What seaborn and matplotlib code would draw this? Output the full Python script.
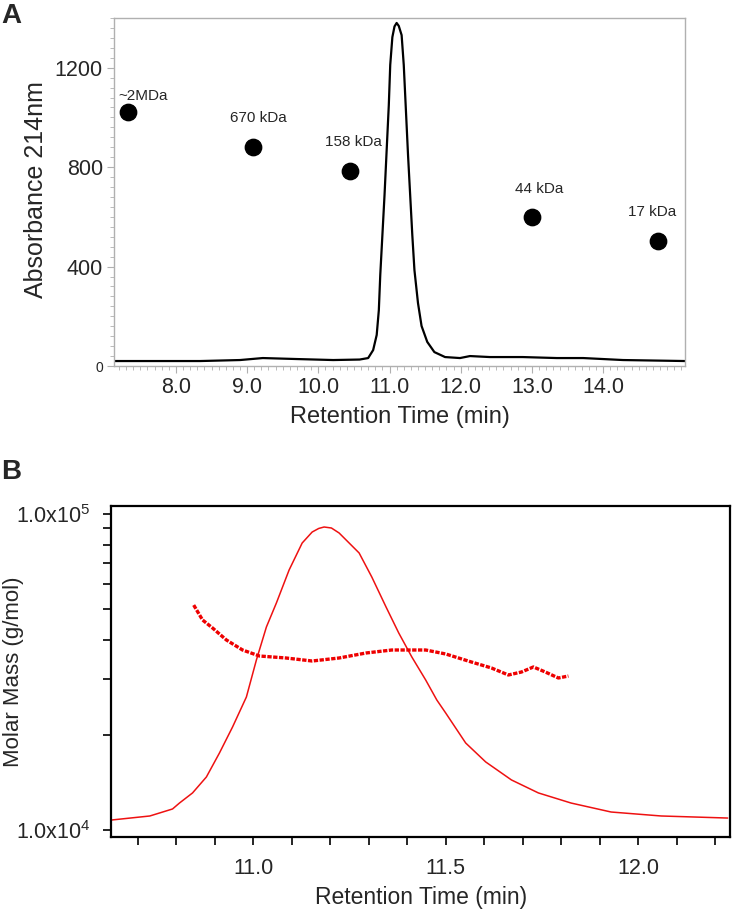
import numpy as np
import pandas as pd
import matplotlib
matplotlib.use("Agg")
import matplotlib.pyplot as plt
import matplotlib.ticker as mticker
import seaborn as sns

# ==========================================
# DATA
# ==========================================
# Panel A: SEC trace, absorbance at 214 nm
uv_time = [7.14, 8.34, 8.90, 9.22, 9.70, 10.21, 10.58, 10.70, 10.77, 10.82, 10.85,
           10.87, 10.90, 10.93, 10.96, 10.99, 11.01, 11.04, 11.07, 11.10, 11.13,
           11.17, 11.20, 11.23, 11.26, 11.29, 11.32, 11.35, 11.40, 11.45, 11.53,
           11.63, 11.78, 11.99, 12.13, 12.41, 12.87, 13.35, 13.72, 14.28, 15.15]
uv_abs = [20, 20, 24, 32, 28, 24, 26, 32, 64, 125, 225,
          366, 527, 688, 869, 1050, 1211, 1323, 1366, 1380, 1368,
          1331, 1211, 1030, 849, 688, 527, 386, 253, 161, 97,
          56, 36, 32, 40, 36, 36, 32, 32, 24, 20]

# Panel A: calibration standards
std_time = [7.33, 9.08, 10.44, 13.00, 14.77]
std_abs = [1020, 882, 785, 600, 503]
std_labels = ["~2MDa", "670 kDa", "158 kDa", "44 kDa", "17 kDa"]

# Panel B: detector trace plotted on the molar mass axis
ri_time = [10.632, 10.731, 10.790, 10.808, 10.842, 10.878, 10.912, 10.946, 10.982,
           11.008, 11.034, 11.060, 11.093, 11.127, 11.153, 11.170, 11.184, 11.203,
           11.223, 11.275, 11.308, 11.345, 11.378, 11.412, 11.448, 11.477, 11.500,
           11.552, 11.604, 11.671, 11.741, 11.826, 11.930, 12.060, 12.233]
ri_signal = [10756, 11075, 11655, 12170, 13100, 14715, 17530, 21180, 26360,
             34520, 43900, 52300, 66480, 80950, 87700, 90000, 90960, 90300,
             87080, 75280, 63170, 50780, 42020, 35280, 29840, 25780, 23460,
             18850, 16420, 14400, 13100, 12170, 11400, 11075, 10910]

# Panel B: MALS molar mass
mm_time = [10.845, 10.868, 10.894, 10.930, 10.972, 11.016, 11.085, 11.153, 11.223,
           11.293, 11.360, 11.448, 11.500, 11.567, 11.619, 11.663, 11.697, 11.728,
           11.759, 11.793, 11.819]
mm_mass = [51500, 46200, 43580, 39930, 37120, 35530, 35020, 34260, 35020,
           36320, 37120, 37120, 36060, 34010, 32560, 30940, 31620, 32800,
           31620, 30270, 30710]

# ==========================================
# STYLE
# ==========================================
sns.set_theme(style="white")
plt.rcParams['font.family'] = ['Liberation Sans', 'DejaVu Sans']
plt.rcParams['mathtext.fontset'] = 'custom'
plt.rcParams['mathtext.rm'] = 'Liberation Sans'
plt.rcParams['mathtext.it'] = 'Liberation Sans'

fig = plt.figure(figsize=(7.33, 9.18), dpi=100)
ax1 = fig.add_axes([0.1555, 0.6013, 0.779, 0.3791])
ax2 = fig.add_axes([0.1514, 0.0882, 0.845, 0.3606])

# ==========================================
# PANEL A
# ==========================================
uv = pd.DataFrame({"time": uv_time, "abs": uv_abs})
sns.lineplot(data=uv, x="time", y="abs", ax=ax1, color="black", lw=1.6,
             estimator=None, sort=False)
sns.scatterplot(x=std_time, y=std_abs, ax=ax1, color="black", s=140,
                edgecolor="black", zorder=3)

offsets = [(11, 12), (4, 21), (3, 21), (5, 20), (-4, 21)]
for t, a, lab, off in zip(std_time, std_abs, std_labels, offsets):
    ax1.annotate(lab, (t, a), xytext=off, textcoords="offset points",
                 ha="center", va="center", fontsize=11)

ax1.set_xlim(7.13, 15.15)
ax1.set_ylim(0, 1400)
ax1.set_xticks([8, 9, 10, 11, 12, 13, 14])
ax1.set_xticklabels(["8.0", "9.0", "10.0", "11.0", "12.0", "13.0", "14.0"])
ax1.set_yticks([0, 400, 800, 1200])
ax1.set_yticklabels(["0", "400", "800", "1200"])
ax1.xaxis.set_minor_locator(mticker.MultipleLocator(0.1))
ax1.yaxis.set_minor_locator(mticker.MultipleLocator(40))
for sp in ax1.spines.values():
    sp.set_color("#b0b0b0")
    sp.set_linewidth(1.0)
ax1.tick_params(axis="both", which="both", direction="out", color="#b0b0b0",
                bottom=True, left=True, labelsize=15.5, pad=3)
ax1.tick_params(which="major", length=5, width=0.8)
ax1.tick_params(which="minor", length=3, width=0.6)
ax1.get_yticklabels()[0].set_fontsize(10)
ax1.set_xlabel("Retention Time (min)", fontsize=17, labelpad=6)
ax1.set_ylabel("Absorbance 214nm", fontsize=18)
ax1.yaxis.set_label_coords(-0.115, 0.506)

# ==========================================
# PANEL B
# ==========================================
ri = pd.DataFrame({"time": ri_time, "signal": ri_signal})
mm = pd.DataFrame({"time": mm_time, "mass": mm_mass})
sns.lineplot(data=ri, x="time", y="signal", ax=ax2, color="#ee1111", lw=1.1,
             estimator=None, sort=False)
sns.lineplot(data=mm, x="time", y="mass", ax=ax2, color="#ee0000", lw=2.4,
             estimator=None, sort=False, dashes=False, linestyle=(0, (1.3, 0.45)))

ax2.set_yscale("log")
ax2.set_xlim(10.63, 12.24)
ax2.set_ylim(9500, 106000)
ax2.set_xticks([11.0, 11.5, 12.0])
ax2.set_xticklabels(["11.0", "11.5", "12.0"])
ax2.xaxis.set_minor_locator(mticker.MultipleLocator(0.1))
ax2.set_yticks([1e4, 1e5])
ax2.set_yticklabels([r"1.0x10$^{4}$", r"1.0x10$^{5}$"])
ax2.yaxis.set_minor_locator(mticker.LogLocator(base=10, subs=np.arange(2, 10)))
ax2.yaxis.set_minor_formatter(mticker.NullFormatter())
for sp in ax2.spines.values():
    sp.set_color("black")
    sp.set_linewidth(1.6)
ax2.tick_params(axis="both", which="both", direction="out", color="black",
                bottom=True, left=True, labelsize=15.5, length=6, width=1.2)
ax2.tick_params(axis="x", which="major", pad=9)
ax2.tick_params(axis="y", which="major", pad=9)
ax2.set_xlabel("Retention Time (min)", fontsize=16.5, labelpad=5)
ax2.set_ylabel("Molar Mass (g/mol)", fontsize=16)
ax2.yaxis.set_label_coords(-0.141, 0.5)

# panel letters
fig.text(0.002, 0.997, "A", fontsize=20, fontweight="bold", va="top")
fig.text(0.002, 1 - 472 / 918, "B", fontsize=20, fontweight="bold", va="center")

fig.savefig("out.png", dpi=100)
